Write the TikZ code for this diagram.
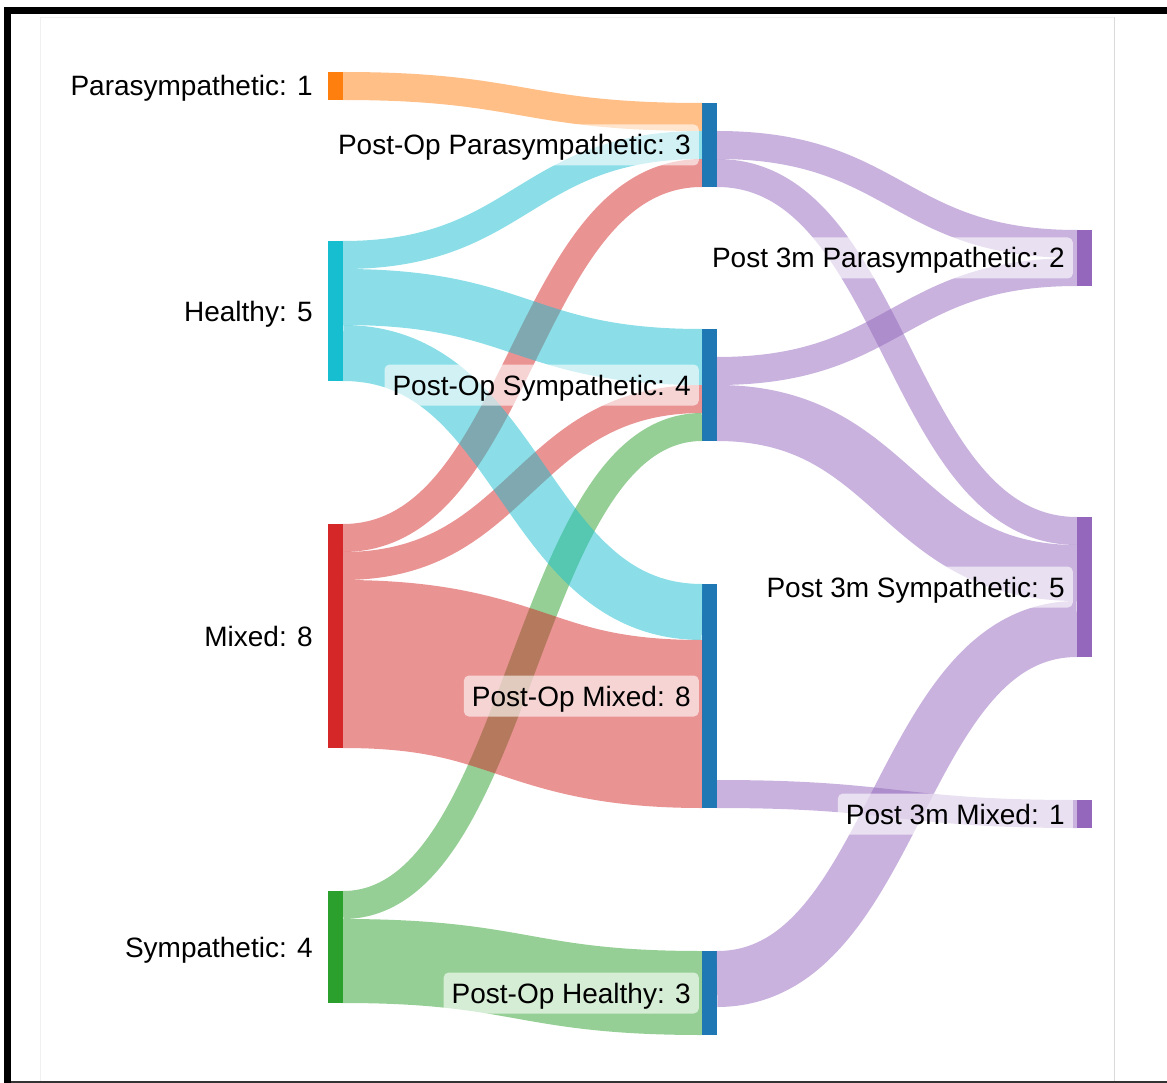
\documentclass[tikz,border=0pt]{standalone}
\usepackage{fontspec}
\setmainfont{Liberation Sans}
\usetikzlibrary{calc}

\definecolor{cOrange}{HTML}{FF7F0E}
\definecolor{cCyan}{HTML}{17BECF}
\definecolor{cRed}{HTML}{D62728}
\definecolor{cGreen}{HTML}{2CA02C}
\definecolor{cBlue}{HTML}{1F77B4}
\definecolor{cPurple}{HTML}{9467BD}

\tikzset{
	bar/.style={rectangle, minimum width=15pt, inner sep=0pt, outer sep=0pt, draw=none, anchor=north west},
	band/.style={draw opacity=0.5, line cap=butt},
	lbl/.style={font=\fontsize{28}{34}\selectfont, fill=white, fill opacity=0.6, text opacity=1,
		rounded corners=5pt, inner xsep=8pt, inner ysep=10.5pt, text height=20pt, text depth=0pt, anchor=east},
}

% colour, source, source offset, target, target offset, width (in units of 28)
\newcommand{\sflow}[6]{%
	\pgfmathsetmacro{\bandw}{#6*28}
	\path (#2.north east) ++(0,{(#3+#6/2)*28}) coordinate (s)
		(#4.north west) ++(0,{(#5+#6/2)*28}) coordinate (t)
		($(s)!.5!(t)$) coordinate (m);
	\draw [#1, band, line width=\bandw pt] (s) .. controls (m |- s) and (m |- t) .. (t);
}

\begin{document}
\begin{tikzpicture}[x=1pt, y=-1pt]
	%\draw[help lines, step=100] (0,0) grid (1167,1083);
	\useasboundingbox (0,0) rectangle (1167,1083);

	% frame
	\fill [black] (4,7) rectangle (1167,14);
	\fill [black] (4,7) rectangle (11,1083);
	\draw [gray!12] (40,17) -- (40,1081);
	\draw [gray!12] (40,17) -- (1114,17);
	\draw [gray!30] (1114,17) -- (1114,1081);
	\fill [black!80] (11,1081) rectangle (1167,1083);

	% first column
	\node [bar, fill=cOrange, minimum height=28pt] (para) at (328,72) {};
	\node [bar, fill=cCyan, minimum height=140pt] (healthy) at (328,241) {};
	\node [bar, fill=cRed, minimum height=224pt] (mixed) at (328,524) {};
	\node [bar, fill=cGreen, minimum height=112pt] (symp) at (328,891) {};

	% post-op
	\node [bar, fill=cBlue, minimum height=84pt] (poPara) at (702,103) {};
	\node [bar, fill=cBlue, minimum height=112pt] (poSymp) at (702,329) {};
	\node [bar, fill=cBlue, minimum height=224pt] (poMixed) at (702,584) {};
	\node [bar, fill=cBlue, minimum height=84pt] (poHealthy) at (702,951) {};

	% post 3m
	\node [bar, fill=cPurple, minimum height=56pt] (mPara) at (1077,230) {};
	\node [bar, fill=cPurple, minimum height=140pt] (mSymp) at (1077,517) {};
	\node [bar, fill=cPurple, minimum height=28pt] (mMixed) at (1077,800) {};

	\sflow{cOrange}{para}{0}{poPara}{0}{1}
	\sflow{cCyan}{healthy}{0}{poPara}{1}{1}
	\sflow{cRed}{mixed}{0}{poPara}{2}{1}
	\sflow{cCyan}{healthy}{1}{poSymp}{0}{2}
	\sflow{cRed}{mixed}{1}{poSymp}{2}{1}
	\sflow{cGreen}{symp}{0}{poSymp}{3}{1}
	\sflow{cCyan}{healthy}{3}{poMixed}{0}{2}
	\sflow{cRed}{mixed}{2}{poMixed}{2}{6}
	\sflow{cGreen}{symp}{1}{poHealthy}{0}{3}

	\sflow{cPurple}{poPara}{1}{mPara}{0}{1}
	\sflow{cPurple}{poPara}{2}{mSymp}{0}{1}
	\sflow{cPurple}{poSymp}{1}{mPara}{1}{1}
	\sflow{cPurple}{poSymp}{2}{mSymp}{1}{2}
	\sflow{cPurple}{poMixed}{7}{mMixed}{0}{1}
	\sflow{cPurple}{poHealthy}{0}{mSymp}{3}{2}

	% labels
	\node [lbl] (lPara) at ([xshift=-7pt]para.west) {Parasympathetic: 1};
	\node [lbl] (lHealthy) at ([xshift=-7pt]healthy.west) {Healthy: 5};
	\node [lbl] (lMixed) at ([xshift=-7pt]mixed.west) {Mixed: 8};
	\node [lbl] (lSymp) at ([xshift=-7pt]symp.west) {Sympathetic: 4};

	\node [lbl] (lPoPara) at ([xshift=-3pt]poPara.west) {Post-Op Parasympathetic: 3};
	\node [lbl] (lPoSymp) at ([xshift=-3pt]poSymp.west) {Post-Op Sympathetic: 4};
	\node [lbl] (lPoMixed) at ([xshift=-3pt]poMixed.west) {Post-Op Mixed: 8};
	\node [lbl] (lPoHealthy) at ([xshift=-3pt]poHealthy.west) {Post-Op Healthy: 3};

	\node [lbl] (lmPara) at ([xshift=-4pt]mPara.west) {Post 3m Parasympathetic: 2};
	\node [lbl] (lmSymp) at ([xshift=-4pt]mSymp.west) {Post 3m Sympathetic: 5};
	\node [lbl] (lmMixed) at ([xshift=-4pt]mMixed.west) {Post 3m Mixed: 1};
\end{tikzpicture}
\end{document}
